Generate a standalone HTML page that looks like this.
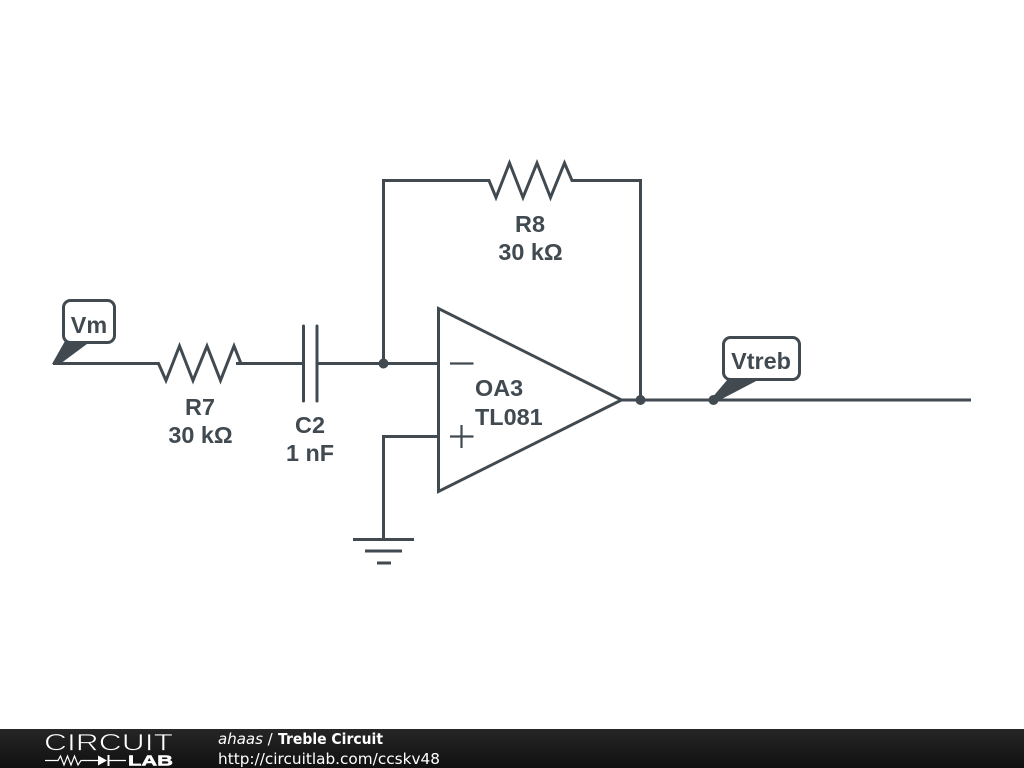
<!DOCTYPE html>
<html>
<head>
<meta charset="utf-8">
<style>
html,body{margin:0;padding:0;background:#fff;width:1024px;height:768px;overflow:hidden}
svg{display:block}
.l{font-family:"Liberation Sans",sans-serif;font-weight:bold;font-size:23.4px;fill:#404a50;text-anchor:middle}
.w{fill:none;stroke:#404a50;stroke-width:3;stroke-linejoin:miter}
.t{fill:none;stroke:#404a50;stroke-width:2.200}
.f{font-family:"DejaVu Sans",sans-serif;font-size:15px;fill:#fff}
</style>
</head>
<body>
<svg width="1024" height="768" viewBox="0 0 1024 768" xmlns="http://www.w3.org/2000/svg">
<defs>
<linearGradient id="bar" x1="0" y1="0" x2="0" y2="1">
<stop offset="0" stop-color="#262626"/>
<stop offset="1" stop-color="#101010"/>
</linearGradient>
</defs>
<rect width="1024" height="768" fill="#fff"/>
<!-- wires -->
<path class="w" d="M53 363.500H158.500L166 380.500L179.500 346L193 380.500L207 346L220.500 380.500L234 346L241 363.500"/>
<path class="w" d="M236 363.500H303"/>
<path class="w" d="M317 363.500H438"/>
<path class="w" d="M303.500 326V401M317 326V401" stroke-linecap="round"/>
<path class="w" d="M383.500 363.500V180.500H489L496 197.500L509.500 163L523 197.500L537 163L550.500 197.500L564.500 163L572 180.500H640.500V400"/>
<path class="w" d="M438.500 308.500V491.500L621.500 400Z"/>
<path class="w" d="M620 400H971"/>
<path class="w" d="M438 436.500H383.500V540"/>
<path class="w" d="M353 539.500H414M365 551H402M377 563H391"/>
<path class="t" d="M450 363.500H473.500M450 436.500H473.500M461.500 425V448"/>
<circle cx="383.500" cy="363.500" r="5" fill="#404a50"/>
<circle cx="640.500" cy="400" r="5" fill="#404a50"/>
<circle cx="713.500" cy="400" r="5" fill="#404a50"/>
<!-- Vm flag -->
<path d="M52 364L65 341H91L60 364Z" fill="#404a50"/>
<rect x="63.500" y="300.500" width="51" height="42" rx="7" fill="#fff" stroke="#404a50" stroke-width="3"/>
<text class="l" x="89" y="333">Vm</text>
<!-- Vtreb flag -->
<path d="M711 399L728 379H760L716 402Z" fill="#404a50"/>
<rect x="723.500" y="337.500" width="76" height="42" rx="7" fill="#fff" stroke="#404a50" stroke-width="3"/>
<text class="l" x="761" y="369">Vtreb</text>
<!-- labels -->
<text class="l" x="530" y="232">R8</text>
<text class="l" x="530.500" y="260">30 kΩ</text>
<text class="l" x="200" y="415">R7</text>
<text class="l" x="200.500" y="443">30 kΩ</text>
<text class="l" x="310" y="433">C2</text>
<text class="l" x="310" y="461">1 nF</text>
<text class="l" x="475" y="396" style="text-anchor:start">OA3</text>
<text class="l" x="475" y="425" style="text-anchor:start">TL081</text>
<!-- footer -->
<rect x="0" y="729" width="1024" height="39" fill="url(#bar)"/>
<text x="44" y="750.500" font-family="Liberation Sans,sans-serif" font-size="24" fill="#fff" stroke="#1f1f1f" stroke-width="0.700" textLength="129" lengthAdjust="spacingAndGlyphs">CIRCUIT</text>
<path d="M45 760.500H58L60.500 756L64 765L67.500 756L71 765L74.500 756L78 765L81 760.500H98M108 760.500H126" fill="none" stroke="#fff" stroke-width="1.200"/>
<path d="M98 755.500V765.500L107 760.500Z" fill="#fff"/>
<path d="M108.500 755V766" stroke="#fff" stroke-width="2"/>
<text x="128" y="765.500" font-family="Liberation Sans,sans-serif" font-size="14.500" font-weight="bold" fill="#fff" stroke="#fff" stroke-width="0.500" textLength="45" lengthAdjust="spacingAndGlyphs">LAB</text>
<text class="f" x="218" y="744"><tspan font-style="italic">ahaas</tspan> /</text>
<text class="f" x="278" y="744" font-weight="bold" textLength="105" lengthAdjust="spacingAndGlyphs">Treble Circuit</text>
<text class="f" x="218" y="764" textLength="222" lengthAdjust="spacingAndGlyphs">http://circuitlab.com/ccskv48</text>
</svg>
</body>
</html>
